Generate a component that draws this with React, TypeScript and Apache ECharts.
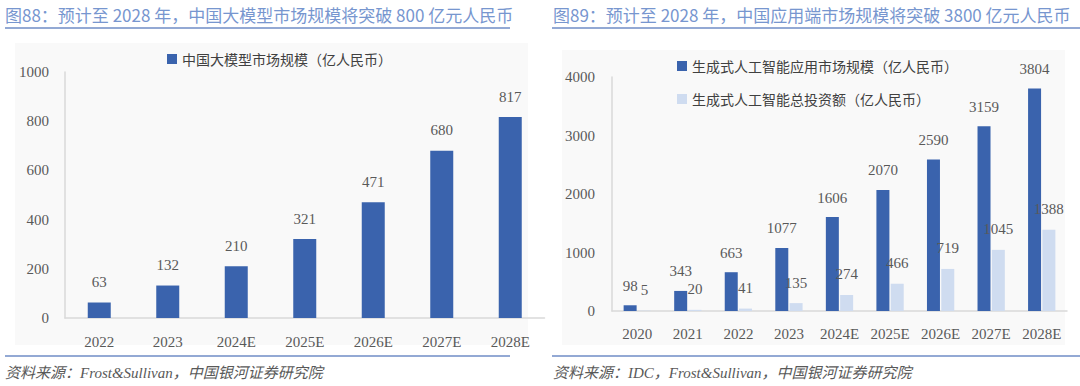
import React, { useEffect, useRef } from "react";
import * as echarts from "echarts";

const leftTitle = "图88：预计至 2028 年，中国大模型市场规模将突破 800 亿元人民币";
const rightTitle = "图89：预计至 2028 年，中国应用端市场规模将突破 3800 亿元人民币";
const leftSource = "资料来源：Frost&Sullivan，中国银河证券研究院";
const rightSource = "资料来源：IDC，Frost&Sullivan，中国银河证券研究院";

const leftCategories = ["2022", "2023", "2024E", "2025E", "2026E", "2027E", "2028E"];
const leftSeriesName = "中国大模型市场规模（亿人民币）";
const leftValues = [63, 132, 210, 321, 471, 680, 817];

const rightCategories = ["2020", "2021", "2022", "2023", "2024E", "2025E", "2026E", "2027E", "2028E"];
const appSeriesName = "生成式人工智能应用市场规模（亿人民币）";
const appValues = [98, 343, 663, 1077, 1606, 2070, 2590, 3159, 3804];
const investSeriesName = "生成式人工智能总投资额（亿人民币）";
const investValues = [5, 20, 41, 135, 274, 466, 719, 1045, 1388];

const DARK = "#3a63ad";
const LIGHT = "#cfdcf0";
const TITLE_COLOR = "#7796cf";
const LINE_COLOR = "#6f8cc6";
const TEXT = "#595959";
const NUM_FONT = "'Liberation Serif', 'DejaVu Serif', serif";
const CJK_FONT = "'Noto Sans CJK SC', 'Noto Sans', sans-serif";

export default function App() {
  const ref = useRef<HTMLDivElement>(null);
  useEffect(() => {
    document.body.style.margin = "0";
    const chart = echarts.init(ref.current!, null, { renderer: "svg" });
    const axisLine = { show: true, lineStyle: { color: "#d9d9d9", width: 1.5 } };
    const labelStyle = { color: TEXT, fontFamily: NUM_FONT, fontSize: 15 };
    const plain = (v: number) => String(v);
    chart.setOption({
      animation: false,
      backgroundColor: "#ffffff",
      graphic: [
        { type: "rect", z: -10, silent: true, shape: { x: 15, y: 43, width: 513, height: 302 }, style: { fill: "#f9f9f9" } },
        { type: "rect", z: -10, silent: true, shape: { x: 562, y: 50, width: 503, height: 295 }, style: { fill: "#f9f9f9" } },
        { type: "text", x: 5, y: 14, style: { text: leftTitle, fill: TITLE_COLOR, font: `17px ${CJK_FONT}`, textVerticalAlign: "middle" } },
        { type: "text", x: 553, y: 14, style: { text: rightTitle, fill: TITLE_COLOR, font: `17px ${CJK_FONT}`, textVerticalAlign: "middle" } },
        { type: "line", shape: { x1: 5, y1: 28, x2: 510, y2: 28 }, style: { stroke: LINE_COLOR, lineWidth: 1.5 } },
        { type: "line", shape: { x1: 552, y1: 28, x2: 1080, y2: 28 }, style: { stroke: LINE_COLOR, lineWidth: 1.5 } },
        { type: "line", shape: { x1: 5, y1: 356, x2: 510, y2: 356 }, style: { stroke: LINE_COLOR, lineWidth: 1.5 } },
        { type: "line", shape: { x1: 552, y1: 356, x2: 1080, y2: 356 }, style: { stroke: LINE_COLOR, lineWidth: 1.5 } },
        { type: "text", x: 5, y: 373, style: { text: leftSource, fill: TEXT, font: `italic 15px 'Liberation Serif', 'Noto Sans CJK SC', serif`, textVerticalAlign: "middle" } },
        { type: "text", x: 553, y: 373, style: { text: rightSource, fill: TEXT, font: `italic 15px 'Liberation Serif', 'Noto Sans CJK SC', serif`, textVerticalAlign: "middle" } },
      ],
      legend: [
        {
          data: [leftSeriesName],
          left: 167,
          top: 52,
          itemWidth: 10,
          itemHeight: 10,
          icon: "rect",
          padding: 0,
          textStyle: { color: "#404040", fontSize: 14, fontFamily: CJK_FONT },
        },
        {
          data: [appSeriesName, investSeriesName],
          orient: "vertical",
          left: 677,
          top: 59,
          itemWidth: 10,
          itemHeight: 10,
          itemGap: 19,
          icon: "rect",
          padding: 0,
          textStyle: { color: "#404040", fontSize: 14, fontFamily: CJK_FONT },
        },
      ],
      grid: [
        { left: 65, top: 72, width: 479.5, height: 246 },
        { left: 612, top: 77, width: 455, height: 234 },
      ],
      xAxis: [
        {
          type: "category",
          gridIndex: 0,
          data: leftCategories,
          axisLine,
          axisTick: { show: false },
          axisLabel: { ...labelStyle, margin: 16, interval: 0 },
        },
        {
          type: "category",
          gridIndex: 1,
          data: rightCategories,
          axisLine,
          axisTick: { show: false },
          axisLabel: { ...labelStyle, margin: 15, interval: 0 },
        },
      ],
      yAxis: [
        {
          type: "value",
          gridIndex: 0,
          min: 0,
          max: 1000,
          interval: 200,
          axisLine,
          splitLine: { show: false },
          axisLabel: { ...labelStyle, margin: 16, formatter: plain },
        },
        {
          type: "value",
          gridIndex: 1,
          min: 0,
          max: 4000,
          interval: 1000,
          axisLine,
          splitLine: { show: false },
          axisLabel: { ...labelStyle, margin: 17, formatter: plain },
        },
      ],
      series: [
        {
          type: "bar",
          name: leftSeriesName,
          xAxisIndex: 0,
          yAxisIndex: 0,
          data: leftValues,
          barWidth: 23,
          itemStyle: { color: DARK },
          label: { show: true, position: "top", distance: 13, ...labelStyle },
        },
        {
          type: "bar",
          name: appSeriesName,
          xAxisIndex: 1,
          yAxisIndex: 1,
          data: appValues,
          barWidth: 13,
          barGap: "10%",
          itemStyle: { color: DARK },
          label: { show: true, position: "top", distance: 12, ...labelStyle },
        },
        {
          type: "bar",
          name: investSeriesName,
          xAxisIndex: 1,
          yAxisIndex: 1,
          data: investValues,
          barWidth: 13,
          barGap: "10%",
          z: 3,
          itemStyle: { color: LIGHT },
          label: { show: true, position: "top", distance: 13, ...labelStyle },
        },
      ],
    });
    return () => chart.dispose();
  }, []);
  return <div ref={ref} style={{ position: "absolute", left: 0, top: 0, width: 1080, height: 386 }} />;
}
